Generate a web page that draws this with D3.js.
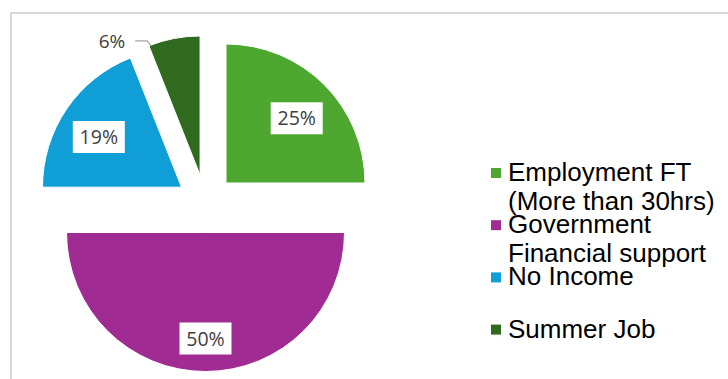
<!DOCTYPE html>
<html><head><meta charset="utf-8">
<script src="https://cdn.jsdelivr.net/npm/d3@7"></script>
<style>html,body{margin:0;padding:0;background:#fff;} svg{display:block;}</style>
</head><body><svg id="chart" width="728" height="379"></svg>
<script>
const categories = ["Employment FT (More than 30hrs)", "Government Financial support", "No Income", "Summer Job"];
const values = [25, 50, 19, 6];
const valueLabels = ["25%", "50%", "19%", "6%"];
const colors = ["#4EA72E", "#A02B93", "#0F9ED5", "#2F6A1F"];

const svg = d3.select("#chart");
// chart frame
svg.append("path").attr("d", "M11,379 V13 H728").attr("fill", "none")
  .attr("stroke", "#d9d9d9").attr("stroke-width", 2);

const cx = 205.5, cy = 203.5, r = 139, explode = 29, labelR = 100, labelShift = 6;
const arcs = d3.pie().sort(null).value(d => d)(values);
const arc = d3.arc().innerRadius(0).outerRadius(r);
const mid = d => (d.startAngle + d.endAngle) / 2;
const off = (d, k) => [Math.sin(mid(d)) * k, -Math.cos(mid(d)) * k];

const g = svg.append("g").attr("transform", `translate(${cx},${cy})`);
const slices = g.selectAll("g.slice").data(arcs).join("g")
  .attr("class", "slice")
  .attr("transform", d => { const o = off(d, explode); return `translate(${o[0]},${o[1]})`; });

slices.append("path").attr("d", arc).attr("fill", (d, i) => colors[i])
  .attr("stroke", "#fff").attr("stroke-width", 1);

const fontLbl = "'Open Sans', 'Noto Sans', sans-serif";
slices.each(function (d, i) {
  const s = d3.select(this);
  if (values[i] >= 10) {
    const p = off(d, labelR);
    p[1] += labelShift;
    s.append("rect").attr("x", p[0] - 26).attr("y", p[1] - 16).attr("width", 52).attr("height", 32)
      .attr("fill", "#fff");
    s.append("text").attr("x", p[0]).attr("y", p[1]).attr("dy", "0.36em")
      .attr("text-anchor", "middle").attr("font-family", fontLbl).attr("font-size", 19.5)
      .attr("fill", "#404040").text(valueLabels[i]);
  } else {
    const a = d.startAngle + 0.015;
    const ax = Math.sin(a) * (r - 1), ay = -Math.cos(a) * (r - 1);
    const ex = ax - 6, ey = ay - 5, lx = ex - 10;
    s.append("path").attr("d", `M${ax},${ay} L${ex + 2},${ey} L${lx},${ey}`)
      .attr("fill", "none").attr("stroke", "#a6a6a6").attr("stroke-width", 1.3);
    s.append("text").attr("x", lx - 10).attr("y", ey).attr("dy", "0.36em")
      .attr("text-anchor", "end").attr("font-family", fontLbl).attr("font-size", 19)
      .attr("fill", "#404040").text(valueLabels[i]);
  }
});

// legend
const lgX = 491, lgY = 181, itemStep = 52.2, lineStep = 29, maxW = 222;
const legend = svg.append("g").attr("font-family", "'Liberation Sans', Arial, sans-serif")
  .attr("font-size", 26).attr("fill", "#000");
categories.forEach((c, i) => {
  const y = lgY + i * itemStep;
  legend.append("rect").attr("x", lgX).attr("y", y - 13).attr("width", 10).attr("height", 10)
    .attr("fill", colors[i]);
  const t = legend.append("text").attr("x", lgX + 17).attr("y", y);
  const words = c.split(" ");
  let line = [], lineNo = 0;
  let ts = t.append("tspan").attr("x", lgX + 17).attr("y", y);
  words.forEach(w => {
    line.push(w);
    ts.text(line.join(" "));
    if (ts.node().getComputedTextLength() > maxW && line.length > 1) {
      line.pop(); ts.text(line.join(" "));
      line = [w]; lineNo++;
      ts = t.append("tspan").attr("x", lgX + 17).attr("y", y + lineNo * lineStep).text(w);
    }
  });
});
</script></body></html>
